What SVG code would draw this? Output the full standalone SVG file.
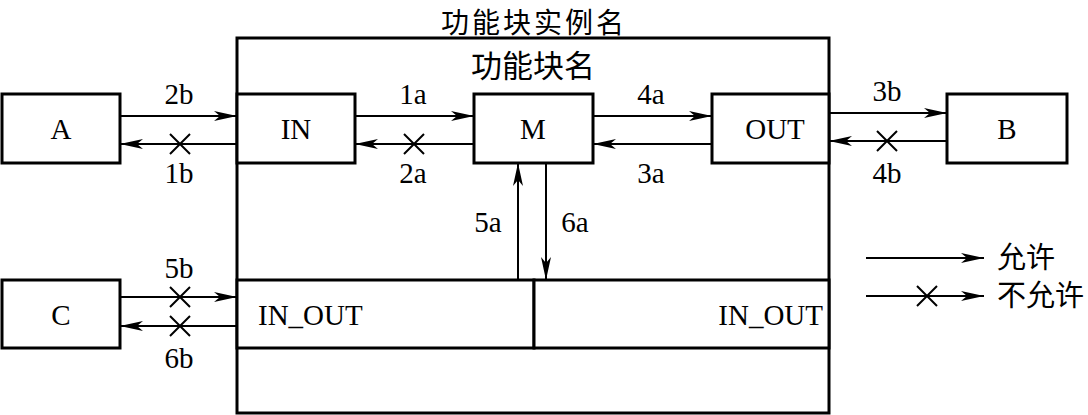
<svg xmlns="http://www.w3.org/2000/svg" width="1088" height="415" viewBox="0 0 1088 415">
<defs>
<marker id="ah" viewBox="0 0 23 10" refX="23" refY="5" markerWidth="23" markerHeight="10" markerUnits="userSpaceOnUse" orient="auto">
<path d="M0,0 L23,5 L0,10 L6,5 Z" fill="#000"/>
</marker>
<style>
.box{fill:#fff;stroke:#000;stroke-width:3}
.arr{stroke:#000;stroke-width:2;fill:none;marker-end:url(#ah)}
.t{font-family:"Liberation Serif","Times New Roman",serif;font-size:29px;fill:#000;text-anchor:middle}
.cn{font-family:"Noto Sans CJK SC","Noto Sans CJK JP",sans-serif;font-size:30px;fill:#000;text-anchor:middle}
.x{stroke:#000;stroke-width:2}
</style>
</defs>
<rect width="1088" height="415" fill="#fff"/>
<g id="instance">
<rect class="box" x="237" y="38" width="592" height="375"/>
<text class="cn" x="534" y="32.5" style="font-size:28px;letter-spacing:3px">功能块实例名</text>
<text class="cn" x="533" y="77" style="font-size:31px">功能块名</text>
</g>
<g id="A"><rect class="box" x="2" y="94" width="118" height="69"/><text class="t" x="61" y="139">A</text></g>
<g id="IN"><rect class="box" x="237" y="94" width="118" height="69"/><text class="t" x="296" y="139">IN</text></g>
<g id="M"><rect class="box" x="474" y="94" width="119" height="69"/><text class="t" x="533" y="139">M</text></g>
<g id="OUT"><rect class="box" x="712" y="94" width="117" height="69"/><text class="t" x="775" y="139">OUT</text></g>
<g id="B"><rect class="box" x="947" y="94" width="120" height="69"/><text class="t" x="1007" y="139">B</text></g>
<g id="C"><rect class="box" x="2" y="280" width="118" height="68"/><text class="t" x="61" y="325">C</text></g>
<g id="INOUT1"><rect class="box" x="237" y="280" width="297" height="68"/><text class="t" x="258" y="325" style="text-anchor:start">IN_OUT</text></g>
<g id="INOUT2"><rect class="box" x="534" y="280" width="295" height="68"/><text class="t" x="823" y="325" style="text-anchor:end">IN_OUT</text></g>
<g id="connectors">
<line class="arr" x1="120" y1="116" x2="237" y2="116"/>
<text class="t" x="179" y="104">2b</text>
<line class="arr" x1="237" y1="144" x2="120" y2="144"/>
<path class="x" d="M170,134 L190,154 M190,134 L170,154"/>
<text class="t" x="179" y="183">1b</text>
<line class="arr" x1="355" y1="116" x2="474" y2="116"/>
<text class="t" x="413" y="104">1a</text>
<line class="arr" x1="474" y1="144" x2="355" y2="144"/>
<path class="x" d="M404,134 L424,154 M424,134 L404,154"/>
<text class="t" x="413" y="183">2a</text>
<line class="arr" x1="593" y1="116" x2="712" y2="116"/>
<text class="t" x="651" y="104">4a</text>
<line class="arr" x1="712" y1="144" x2="593" y2="144"/>
<text class="t" x="651" y="183">3a</text>
<line class="arr" x1="829" y1="113" x2="947" y2="113"/>
<text class="t" x="887" y="101">3b</text>
<line class="arr" x1="947" y1="141" x2="829" y2="141"/>
<path class="x" d="M877,131 L897,151 M897,131 L877,151"/>
<text class="t" x="887" y="183">4b</text>
<line class="arr" x1="518" y1="280" x2="518" y2="163"/>
<text class="t" x="488" y="232">5a</text>
<line class="arr" x1="546" y1="163" x2="546" y2="280"/>
<text class="t" x="575" y="232">6a</text>
<line class="arr" x1="120" y1="297" x2="237" y2="297"/>
<path class="x" d="M170,287 L190,307 M190,287 L170,307"/>
<text class="t" x="179" y="278">5b</text>
<line class="arr" x1="237" y1="326" x2="120" y2="326"/>
<path class="x" d="M170,316 L190,336 M190,316 L170,336"/>
<text class="t" x="179" y="368">6b</text>
</g>
<g id="legend">
<line class="arr" x1="866" y1="258" x2="984" y2="258"/>
<text class="cn" x="997" y="268" style="text-anchor:start;font-size:29px">允许</text>
<line class="arr" x1="866" y1="296" x2="984" y2="296"/>
<path class="x" d="M917,286 L937,306 M937,286 L917,306"/>
<text class="cn" x="997" y="306" style="text-anchor:start;font-size:29px">不允许</text>
</g>
</svg>
